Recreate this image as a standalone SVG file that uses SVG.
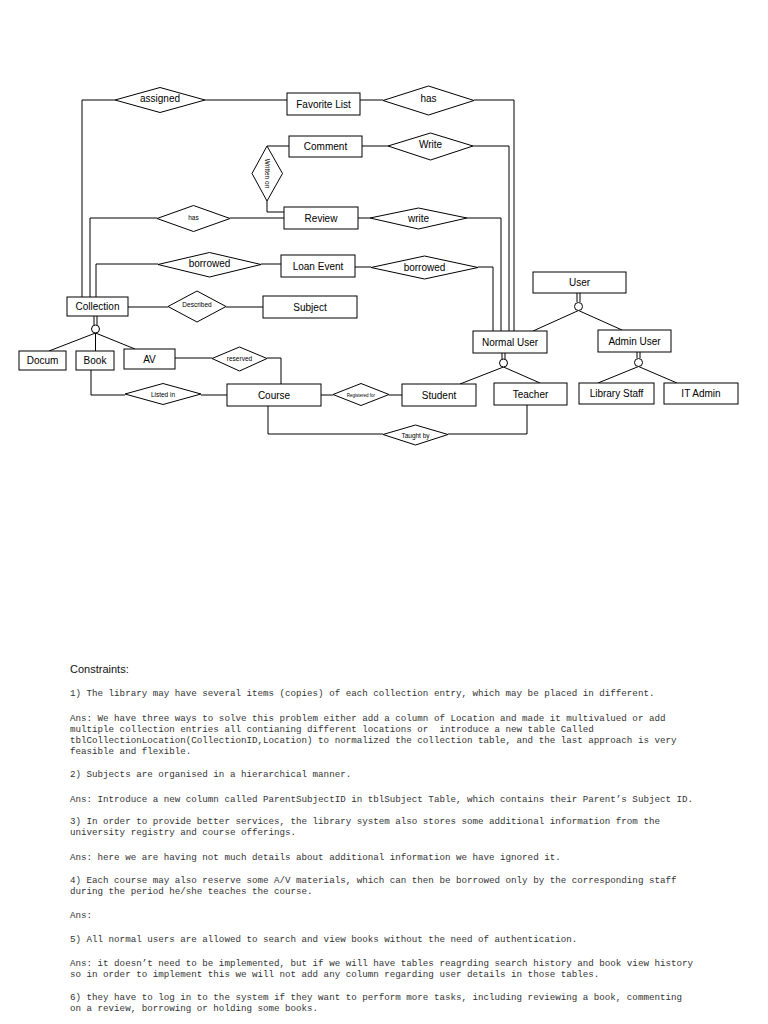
<svg xmlns="http://www.w3.org/2000/svg" width="768" height="1024" viewBox="0 0 768 1024">
<style>
.e{fill:#fff;stroke:#000;stroke-width:1}
.r{fill:#fff;stroke:#000;stroke-width:1}
.c{fill:none;stroke:#000;stroke-width:1}
.t{font-family:"Liberation Sans",Arial,sans-serif;font-size:10px;fill:#000;text-anchor:middle;dominant-baseline:central}
.s{font-family:"Liberation Sans",Arial,sans-serif;font-size:6.5px;fill:#000;text-anchor:middle;dominant-baseline:central}
.x{font-family:"Liberation Sans",Arial,sans-serif;font-size:4.5px;fill:#000;text-anchor:middle;dominant-baseline:central}
.m{font-family:"Liberation Mono","Courier New",monospace;font-size:9.2px;fill:#333;white-space:pre}
.h{font-family:"Liberation Sans",Arial,sans-serif;font-size:11px;fill:#111}
</style>
<rect width="768" height="1024" fill="#fff"/>
<g id="connectors" class="c">
<polyline points="115,100 82,100 82,297"/>
<polyline points="205,100 287,100"/>
<polyline points="360,100 383,100"/>
<polyline points="474,100 514,100 514,331"/>
<polyline points="362,146 388,146"/>
<polyline points="473,146 509,146 509,331"/>
<polyline points="358,218 370,218"/>
<polyline points="467,218 501,218 501,331"/>
<polyline points="289,146 267,146"/>
<polyline points="267,201 267,212 284,212"/>
<polyline points="157,218 90,218 90,297"/>
<polyline points="230,218 284,218"/>
<polyline points="158,264 96,264 96,297"/>
<polyline points="261,264 281,264"/>
<polyline points="355,267 371,267"/>
<polyline points="478,267 493,267 493,331"/>
<polyline points="128,307 168,307"/>
<polyline points="226,307 263,307"/>
<polyline points="94,316 94,325"/>
<polyline points="97,316 97,325"/>
<polyline points="95.5,333 49,351"/>
<polyline points="95.5,333 95.5,351"/>
<polyline points="95.5,333 135,349"/>
<polyline points="175,358 212,358"/>
<polyline points="267,358 281,358 281,384"/>
<polyline points="91,370 91,395 125,395"/>
<polyline points="201,395 227,395"/>
<polyline points="321,395 333,395"/>
<polyline points="389,395 402,395"/>
<polyline points="268,406 268,434 383,434"/>
<polyline points="448,434 527,434 527,405"/>
<polyline points="502,353 502,359"/>
<polyline points="505,353 505,359"/>
<polyline points="503.5,367 460,384"/>
<polyline points="503.5,367 540,383"/>
<polyline points="577,293 577,302"/>
<polyline points="580,293 580,302"/>
<polyline points="578.5,310.5 533,331"/>
<polyline points="578.5,310.5 622,330"/>
<polyline points="637,352 637,358"/>
<polyline points="640,352 640,358"/>
<polyline points="638.5,366.5 598,383"/>
<polyline points="638.5,366.5 677,383"/>
<circle cx="95.5" cy="329" r="4" fill="#fff"/>
<circle cx="503.5" cy="363" r="4" fill="#fff"/>
<circle cx="578.5" cy="306.5" r="4" fill="#fff"/>
<circle cx="638.5" cy="362.5" r="4" fill="#fff"/>
</g>
<g id="assigned"><polygon class="e" points="115,100 160,87.5 205,100 160,112.5"/><text class="t" x="160" y="98">assigned</text></g>
<g id="favorite-list"><rect class="r" x="287" y="93" width="73" height="22"/><text class="t" x="323.5" y="104">Favorite List</text></g>
<g id="has-fav"><polygon class="e" points="383,100.5 428.5,86 474,100.5 428.5,115"/><text class="t" x="428.5" y="98">has</text></g>
<g id="comment"><rect class="r" x="289" y="136" width="73" height="21"/><text class="t" x="325.5" y="146.5">Comment</text></g>
<g id="write-comment"><polygon class="e" points="388,146 430.5,133 473,146 430.5,160"/><text class="t" x="430.5" y="144">Write</text></g>
<g id="written-on"><polygon class="e" points="267,146 282.5,173.5 267,201 252,173.5"/><text class="s" transform="translate(267,173.5) rotate(90)">Written on</text></g>
<g id="review"><rect class="r" x="284" y="207" width="74" height="22"/><text class="t" x="321" y="218">Review</text></g>
<g id="write-review"><polygon class="e" points="370,218 418.5,208 467,218 418.5,229"/><text class="t" x="418.5" y="218">write</text></g>
<g id="has-review"><polygon class="e" points="157,218.5 193.5,205.5 230,218.5 193.5,231.5"/><text class="s" x="193.5" y="217">has</text></g>
<g id="borrowed-collection"><polygon class="e" points="158,264.5 209.5,252.5 261,264.5 209.5,277"/><text class="t" x="209.5" y="263">borrowed</text></g>
<g id="loan-event"><rect class="r" x="281" y="255" width="74" height="22"/><text class="t" x="318" y="266">Loan Event</text></g>
<g id="borrowed-user"><polygon class="e" points="371,267.5 424.5,256 478,267.5 424.5,279"/><text class="t" x="424.5" y="267">borrowed</text></g>
<g id="collection"><rect class="r" x="67" y="297" width="61" height="19"/><text class="t" x="97.5" y="306.5">Collection</text></g>
<g id="described"><polygon class="e" points="168,306.5 197,291 226,306.5 197,322"/><text class="s" x="197" y="304">Described</text></g>
<g id="subject"><rect class="r" x="263" y="296" width="94" height="22"/><text class="t" x="310" y="307">Subject</text></g>
<g id="docum"><rect class="r" x="19" y="351" width="47" height="19"/><text class="t" x="42.5" y="360.5">Docum</text></g>
<g id="book"><rect class="r" x="76" y="351" width="38" height="19"/><text class="t" x="95" y="360.5">Book</text></g>
<g id="av"><rect class="r" x="124" y="349" width="51" height="20"/><text class="t" x="149.5" y="359">AV</text></g>
<g id="reserved"><polygon class="e" points="212,358.5 239.5,347 267,358.5 239.5,371"/><text class="s" x="239.5" y="358">reserved</text></g>
<g id="listed-in"><polygon class="e" points="125,394 163,383.5 201,394 163,404.5"/><text class="s" x="163" y="394">Listed in</text></g>
<g id="course"><rect class="r" x="227" y="384" width="94" height="22"/><text class="t" x="274" y="395">Course</text></g>
<g id="registered-for"><polygon class="e" points="333,394.5 361,383.5 389,394.5 361,405.5"/><text class="x" x="361" y="395">Registered for</text></g>
<g id="student"><rect class="r" x="402" y="384" width="74" height="22"/><text class="t" x="439" y="395">Student</text></g>
<g id="teacher"><rect class="r" x="494" y="383" width="73" height="22"/><text class="t" x="530.5" y="394">Teacher</text></g>
<g id="taught-by"><polygon class="e" points="383,434.5 415.5,425 448,434.5 415.5,445"/><text class="s" x="415.5" y="435">Taught by</text></g>
<g id="normal-user"><rect class="r" x="473" y="331" width="74" height="22"/><text class="t" x="510" y="342">Normal User</text></g>
<g id="user"><rect class="r" x="533" y="272" width="93" height="21"/><text class="t" x="579.5" y="282">User</text></g>
<g id="admin-user"><rect class="r" x="598" y="330" width="73" height="22"/><text class="t" x="634.5" y="341">Admin User</text></g>
<g id="library-staff"><rect class="r" x="579" y="383" width="75" height="21"/><text class="t" x="616.5" y="393">Library Staff</text></g>
<g id="it-admin"><rect class="r" x="664" y="383" width="74" height="21"/><text class="t" x="701" y="393">IT Admin</text></g>
<g id="constraints">
<text class="h" x="70" y="673">Constraints:</text>
<text class="m" x="70" y="696">1) The library may have several items (copies) of each collection entry, which may be placed in different.</text>
<text class="m" x="70" y="721">Ans: We have three ways to solve this problem either add a column of Location and made it multivalued or add</text>
<text class="m" x="70" y="732">multiple collection entries all contianing different locations or  introduce a new table Called</text>
<text class="m" x="70" y="743">tblCollectionLocation(CollectionID,Location) to normalized the collection table, and the last approach is very</text>
<text class="m" x="70" y="754">feasible and flexible.</text>
<text class="m" x="70" y="777">2) Subjects are organised in a hierarchical manner.</text>
<text class="m" x="70" y="802">Ans: Introduce a new column called ParentSubjectID in tblSubject Table, which contains their Parent’s Subject ID.</text>
<text class="m" x="70" y="824">3) In order to provide better services, the library system also stores some additional information from the</text>
<text class="m" x="70" y="835">university registry and course offerings.</text>
<text class="m" x="70" y="860">Ans: here we are having not much details about additional information we have ignored it.</text>
<text class="m" x="70" y="883">4) Each course may also reserve some A/V materials, which can then be borrowed only by the corresponding staff</text>
<text class="m" x="70" y="894">during the period he/she teaches the course.</text>
<text class="m" x="70" y="918">Ans:</text>
<text class="m" x="70" y="942">5) All normal users are allowed to search and view books without the need of authentication.</text>
<text class="m" x="70" y="966">Ans: it doesn’t need to be implemented, but if we will have tables reagrding search history and book view history</text>
<text class="m" x="70" y="977">so in order to implement this we will not add any column regarding user details in those tables.</text>
<text class="m" x="70" y="1000">6) they have to log in to the system if they want to perform more tasks, including reviewing a book, commenting</text>
<text class="m" x="70" y="1011">on a review, borrowing or holding some books.</text>
</g>
</svg>
